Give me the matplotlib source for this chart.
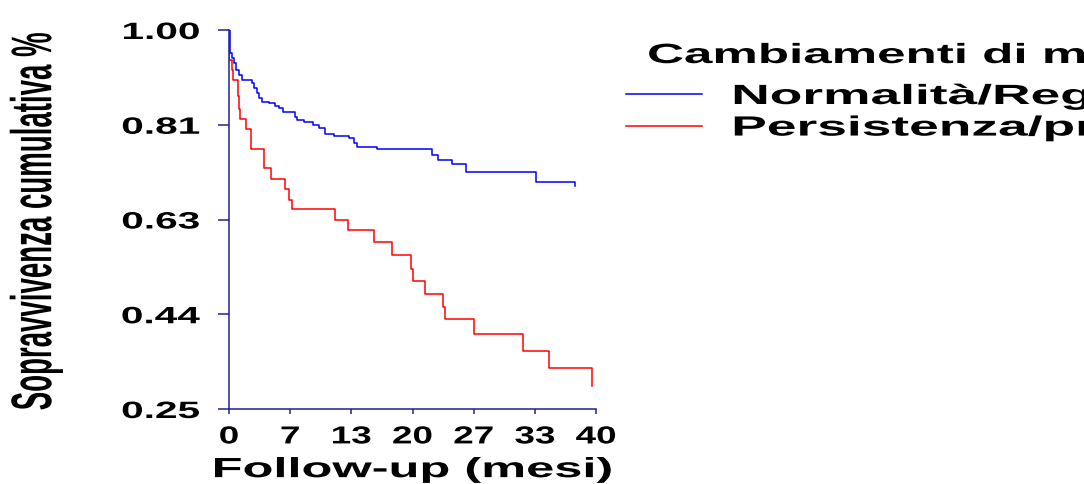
import matplotlib
matplotlib.use("Agg")
import matplotlib.pyplot as plt
from matplotlib import patheffects
from matplotlib.transforms import Affine2D

# Kaplan-Meier steps (months, cumulative survival)
t_norm = [0, 0.1, 0.3, 0.5, 0.8, 1.1, 1.4, 2.5, 2.7, 3.0, 3.3, 3.6, 4.4, 5.0, 5.5, 5.9,
          7.2, 7.4, 8.2, 9.2, 9.8, 10.5, 11.4, 13.1, 13.6, 13.9, 16.1, 22.1, 22.8, 24.3,
          25.8, 33.5, 37.7]
s_norm = [1.0, 0.955, 0.945, 0.935, 0.92, 0.91, 0.902, 0.895, 0.885, 0.875, 0.866, 0.858,
          0.855, 0.850, 0.845, 0.837, 0.828, 0.822, 0.818, 0.812, 0.807, 0.795, 0.791,
          0.786, 0.777, 0.769, 0.764, 0.752, 0.743, 0.735, 0.719, 0.70, 0.692]

t_pers = [0, 0.05, 0.35, 0.45, 1.0, 1.1, 1.25, 1.85, 2.35, 3.85, 4.6, 6.1, 6.5, 6.85,
          11.55, 13.0, 15.8, 17.8, 19.8, 20.0, 21.4, 23.3, 23.5, 26.7, 32.0, 34.9, 39.6]
s_pers = [1.0, 0.94, 0.92, 0.902, 0.87, 0.843, 0.824, 0.804, 0.764, 0.726, 0.706, 0.686,
          0.663, 0.645, 0.625, 0.604, 0.580, 0.554, 0.528, 0.504, 0.477, 0.452, 0.428,
          0.398, 0.365, 0.331, 0.295]

x_ticks = [0, 40 / 6, 80 / 6, 20, 160 / 6, 200 / 6, 40]
x_labels = ["0", "7", "13", "20", "27", "33", "40"]
y_ticks = [0.25, 0.4375, 0.625, 0.8125, 1.0]
y_labels = ["0.25", "0.44", "0.63", "0.81", "1.00"]

legend_title = "Cambiamenti di malattia"
labels = ["Normalità/Regressione", "Persistenza/progressione"]

navy = "#20208f"
font = "Liberation Sans"


class Stretch(patheffects.AbstractPathEffect):
    # scale glyph outlines about a point of their ink box (wide / narrow lettering)
    def __init__(self, sx=1.0, sy=1.0, fx=0.5, fy=0.5):
        super().__init__()
        self.sx, self.sy, self.fx, self.fy = sx, sy, fx, fy

    def draw_path(self, renderer, gc, tpath, affine, rgbFace=None):
        bb = tpath.get_extents(affine)
        cx = bb.x0 + self.fx * bb.width
        cy = bb.y0 + self.fy * bb.height
        warp = Affine2D().translate(-cx, -cy).scale(self.sx, self.sy).translate(cx, cy)
        renderer.draw_path(gc, tpath, affine + warp, rgbFace)


fig = plt.figure(figsize=(10.84, 4.84), dpi=100)
ax = fig.add_axes([229 / 1084, 75 / 484, 367 / 1084, 379 / 484])

l1, = ax.step(t_norm, s_norm, where="post", color="#0000ff", lw=1.1)
l2, = ax.step(t_pers, s_pers, where="post", color="#ff0000", lw=1.1)

ax.set_xlim(0, 40)
ax.set_ylim(0.25, 1.0)
ax.set_xticks(x_ticks)
ax.set_xticklabels(x_labels)
ax.set_yticks(y_ticks)
ax.set_yticklabels(y_labels)

for side in ["top", "right"]:
    ax.spines[side].set_visible(False)
for side in ["left", "bottom"]:
    ax.spines[side].set_color(navy)
    ax.spines[side].set_linewidth(1.1)

ax.tick_params(axis="x", direction="out", length=3.6, width=1.1, color=navy, pad=7.5,
               labelsize=17.7)
ax.tick_params(axis="y", direction="out", length=8, width=1.1, color=navy, pad=13,
               labelsize=17)
for lab in ax.get_xticklabels():
    lab.set_fontfamily(font)
    lab.set_fontweight("bold")
    lab.set_path_effects([Stretch(sx=1.5, fx=0.5)])
for lab in ax.get_yticklabels():
    lab.set_fontfamily(font)
    lab.set_fontweight("bold")
    lab.set_path_effects([Stretch(sx=1.72, fx=1.0)])

xl = ax.set_xlabel("Follow-up (mesi)", fontsize=20, fontweight="bold", family=font,
                   va="top")
xl.set_path_effects([Stretch(sx=1.82, fx=0.5)])
ax.xaxis.set_label_coords(0.5, -0.127)

yl = ax.set_ylabel("Sopravvivenza cumulativa %", fontsize=19.9, fontweight="bold",
                   family=font, va="center")
yl.set_path_effects([Stretch(sx=2.07, fx=0.5)])
ax.yaxis.set_label_coords(-0.5245, 0.495)

title = fig.text(648 / 1084, 1 - 63 / 484, legend_title, fontsize=20, fontweight="bold",
                 family=font, va="baseline", ha="left")
title.set_path_effects([Stretch(sx=1.84, fx=0.0)])

leg = fig.legend([l1, l2], labels, loc="upper left",
                 bbox_to_anchor=(626 / 1084, 1 - 84 / 484),
                 frameon=False, borderpad=0, borderaxespad=0, handlelength=2.73,
                 handletextpad=1.12, labelspacing=0.2,
                 prop={"family": font, "weight": "bold", "size": 20})
for txt in leg.get_texts():
    txt.set_path_effects([Stretch(sx=1.92, fx=0.0)])

fig.savefig("out.png", dpi=100)
